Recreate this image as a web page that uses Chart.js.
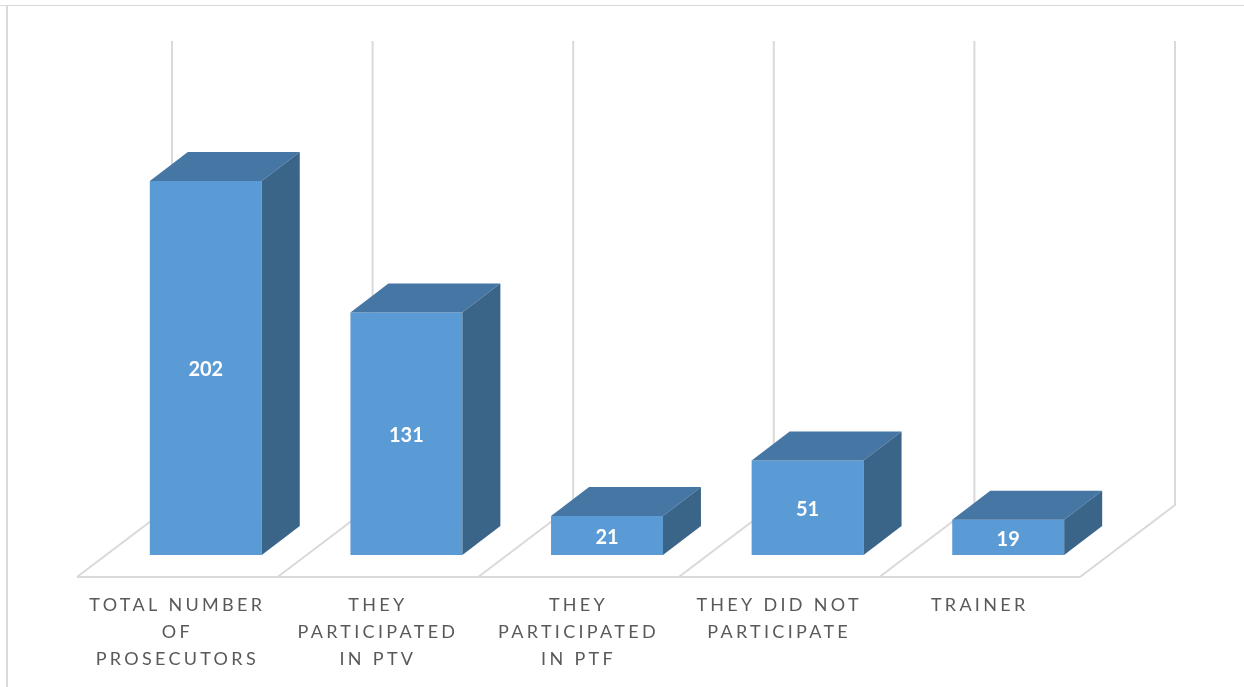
<!DOCTYPE html>
<html>
<head>
<meta charset="utf-8">
<title>Prosecutors</title>
<script src="https://cdn.jsdelivr.net/npm/chart.js@4"></script>
<style>
  html, body { margin: 0; padding: 0; background: #fff; }
  canvas { display: block; }
</style>
</head>
<body>
<canvas id="chart" width="1244" height="687"></canvas>
<script>
// data
const categories = [
  ["TOTAL NUMBER", "OF", "PROSECUTORS"],
  ["THEY", "PARTICIPATED", "IN PTV"],
  ["THEY", "PARTICIPATED", "IN PTF"],
  ["THEY DID NOT", "PARTICIPATE"],
  ["TRAINER"]
];
const values = [202, 131, 21, 51, 19];

// 3D look
const FRONT = "#5B9BD5";
const TOP = "#4676A3";
const SIDE = "#3A6488";
const GRID = "#D9D9D9";
const depthX = 38, depthY = 29;    // bar depth
const wallX = 66.5, wallY = 50;    // bar base -> back wall
const floorX = 28.5, floorY = 22;  // bar base -> front of floor

function face(ctx, pts, color) {
  ctx.beginPath();
  pts.forEach((p, i) => i ? ctx.lineTo(p[0], p[1]) : ctx.moveTo(p[0], p[1]));
  ctx.closePath();
  ctx.fillStyle = color;
  ctx.fill();
}

const box3d = {
  id: "box3d",
  beforeDraw(chart) {
    const ctx = chart.ctx;
    // frame of the picture, top and left only
    ctx.save();
    ctx.fillStyle = GRID;
    ctx.fillRect(0, 5, chart.width, 1);
    ctx.fillRect(6, 5, 2, chart.height - 5);
    ctx.restore();
    ctx.letterSpacing = "3.3px"; // for the axis labels
  },
  beforeDatasetsDraw(chart) {
    const ctx = chart.ctx;
    ctx.letterSpacing = "0px";
    const { left, right, top } = chart.chartArea;
    const base = chart.scales.y.getPixelForValue(0);
    const step = (right - left) / categories.length;

    ctx.save();
    ctx.strokeStyle = GRID;
    ctx.lineWidth = 2;
    for (let i = 0; i <= categories.length; i++) {
      const x = left + step * i;
      ctx.beginPath();
      ctx.moveTo(x + wallX, top - wallY - 1);
      ctx.lineTo(x + wallX, base - wallY);
      ctx.lineTo(x - floorX, base + floorY);
      ctx.stroke();
    }
    ctx.beginPath();
    ctx.moveTo(left - floorX, base + floorY);
    ctx.lineTo(right - floorX, base + floorY);
    ctx.stroke();
    ctx.restore();
  },
  afterDatasetsDraw(chart) {
    const ctx = chart.ctx;
    ctx.save();
    chart.getDatasetMeta(0).data.forEach((bar, i) => {
      const l = bar.x - bar.width / 2, r = bar.x + bar.width / 2;
      face(ctx, [[l, bar.y], [l + depthX, bar.y - depthY], [r + depthX, bar.y - depthY], [r, bar.y]], TOP);
      face(ctx, [[r, bar.y], [r + depthX, bar.y - depthY], [r + depthX, bar.base - depthY], [r, bar.base]], SIDE);

      ctx.fillStyle = "#fff";
      ctx.font = "bold 20px Lato";
      ctx.textAlign = "center";
      ctx.textBaseline = "middle";
      ctx.fillText(values[i], bar.x, (bar.y + bar.base) / 2 + 2);
    });
    ctx.restore();
  }
};

new Chart(document.getElementById("chart"), {
  type: "bar",
  data: {
    labels: categories,
    datasets: [{
      data: values,
      backgroundColor: FRONT,
      borderWidth: 0,
      categoryPercentage: 1,
      barPercentage: 0.558
    }]
  },
  options: {
    responsive: false,
    animation: false,
    layout: { padding: { left: 105.5, right: 135.5, top: 92, bottom: 0 } },
    plugins: { legend: { display: false }, tooltip: { enabled: false } },
    scales: {
      x: {
        afterFit(scale) { scale.height = 132; }, // keep the floor where it belongs, labels hang below
        grid: { display: false },
        border: { display: false },
        ticks: {
          autoSkip: false,
          maxRotation: 0,
          padding: 29,
          labelOffset: -28.5,
          color: "#595959",
          font: { family: "Lato", size: 18, lineHeight: 1.5 }
        }
      },
      y: { display: false, min: 0, max: 250 }
    }
  },
  plugins: [box3d]
});
</script>
</body>
</html>
